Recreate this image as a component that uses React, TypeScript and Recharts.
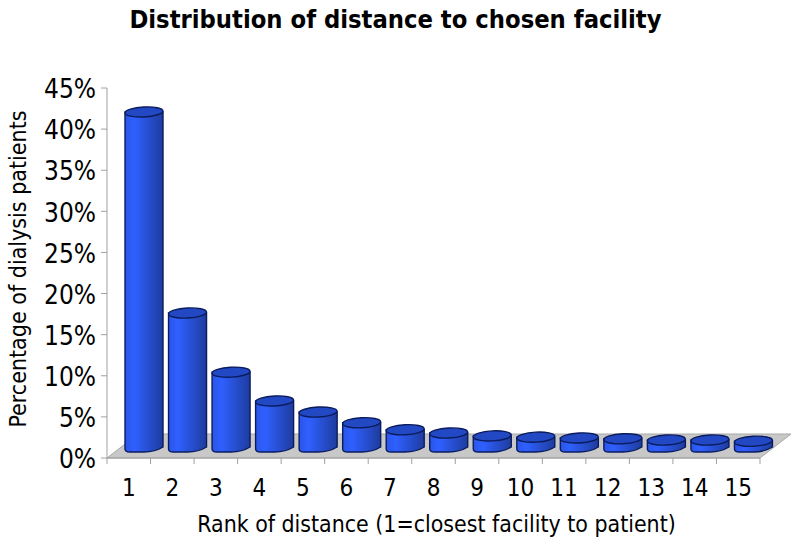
import React from 'react';
import { BarChart, Bar, XAxis, YAxis, usePlotArea } from 'recharts';

const ranks = ['1', '2', '3', '4', '5', '6', '7', '8', '9', '10', '11', '12', '13', '14', '15'];
const shares = [40.75, 16.3, 9.1, 5.6, 4.25, 2.95, 2.1, 1.7, 1.35, 1.2, 1.1, 1.0, 0.85, 0.85, 0.7];
const percentTicks = [0, 5, 10, 15, 20, 25, 30, 35, 40, 45];

const data = ranks.map((rank, i) => ({ rank, share: shares[i] }));

const FONT = '"DejaVu Sans Condensed", "DejaVu Sans", sans-serif';
const AXIS_GRAY = '#a0a0a0';
const DEPTH_X = 15;
const DEPTH_Y = 6;

// gray floor of the fake 3D plot
const Floor = () => {
  const plot = usePlotArea();
  if (!plot) return null;
  const bottom = plot.y + plot.height;
  const right = plot.x + plot.width;
  const points = [
    [plot.x, bottom],
    [right, bottom],
    [right + 31, bottom - 24],
    [plot.x + 31, bottom - 24],
  ];
  return <polygon points={points.map(p => p.join(',')).join(' ')} fill="#c8c8c8" stroke="#a8a8a8" />;
};

const Cylinder = (props: any) => {
  const { x, y, width, height } = props;
  const rx = width / 2;
  const ry = 5;
  const left = x + DEPTH_X;
  const right = left + width;
  const topFront = y - DEPTH_Y;
  const topCenter = topFront - ry;
  const base = topFront + height;
  const body = `M${left},${topCenter} L${left},${base - 3} Q${left},${base} ${left + 5},${base}
    L${left + rx},${base} Q${right - 8},${base} ${right},${base - 5} L${right},${topCenter} Z`;
  return (
    <g>
      <path d={body} fill="url(#cylinderSide)" stroke="#0b1c5c" strokeWidth={1.4} />
      <ellipse
        cx={left + rx}
        cy={topCenter}
        rx={rx}
        ry={ry}
        fill="#2248c4"
        stroke="#0b1c5c"
        strokeWidth={1.4}
        transform={`rotate(-3 ${left + rx} ${topCenter})`}
      />
    </g>
  );
};

const RankTick = (props: any) => {
  const { x, y, payload } = props;
  const halfBand = 653 / ranks.length / 2;
  return (
    <g>
      <line x1={x + halfBand} x2={x + halfBand} y1={y - 8} y2={y - 2} stroke={AXIS_GRAY} />
      {payload.index === 0 && <line x1={x - halfBand} x2={x - halfBand} y1={y - 8} y2={y - 2} stroke={AXIS_GRAY} />}
      <text x={x} y={y + 30} textAnchor="middle" fontSize={24} fontFamily={FONT} fill="#000">
        {payload.value}
      </text>
    </g>
  );
};

export default function App() {
  return (
    <div style={{ position: 'absolute', left: 0, top: 0, width: 800, height: 546, background: '#fff' }}>
      <div
        style={{
          position: 'absolute',
          left: 0,
          top: 5,
          width: 791,
          textAlign: 'center',
          fontFamily: FONT,
          fontWeight: 'bold',
          fontSize: 25.3,
          color: '#000',
          whiteSpace: 'nowrap',
        }}
      >
        Distribution of distance to chosen facility
      </div>
      <BarChart
        width={800}
        height={546}
        data={data}
        margin={{ top: 88, right: 40, bottom: 28, left: 0 }}
        barCategoryGap={0}
      >
        <defs>
          <linearGradient id="cylinderSide" x1="0" y1="0" x2="1" y2="0">
            <stop offset="0%" stopColor="#2a55e8" />
            <stop offset="25%" stopColor="#2f60ff" />
            <stop offset="100%" stopColor="#1e3c9e" />
          </linearGradient>
        </defs>
        <Floor />
        <XAxis
          dataKey="rank"
          height={60}
          interval={0}
          stroke={AXIS_GRAY}
          tickLine={false}
          tick={<RankTick />}
          label={{ value: 'Rank of distance (1=closest facility to patient)', position: 'insideBottom', offset: -14, dx: 3, fontSize: 22.9, fontFamily: FONT, fill: '#000' }}
        />
        <YAxis
          width={107}
          domain={[0, 45]}
          ticks={percentTicks}
          interval={0}
          stroke={AXIS_GRAY}
          tickSize={6}
          tickMargin={5}
          tickFormatter={(v: number) => `${v}%`}
          tick={{ fontSize: 26, dy: 1, fontFamily: FONT, fill: '#000' }}
          label={{ value: 'Percentage of dialysis patients', angle: -90, position: 'insideLeft', offset: 18, dy: -4, fontSize: 23, fontFamily: FONT, fill: '#000', style: { textAnchor: 'middle' } }}
        />
        <Bar dataKey="share" barSize={38} shape={<Cylinder />} isAnimationActive={false} />
      </BarChart>
    </div>
  );
}
